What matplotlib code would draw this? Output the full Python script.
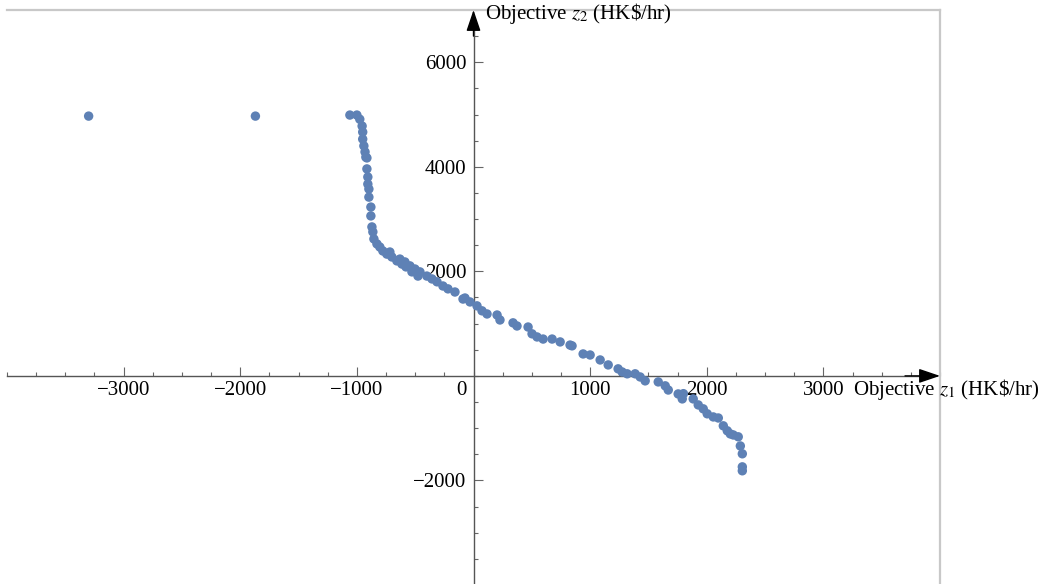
import matplotlib
matplotlib.use('Agg')
import matplotlib.pyplot as plt
from matplotlib.ticker import MultipleLocator, FixedLocator

plt.rcParams['font.family'] = ['Liberation Serif', 'DejaVu Serif']
plt.rcParams['mathtext.fontset'] = 'stix'

# Pareto front: objective z1 vs objective z2 (HK$/hr)
z1 = [-3300, -1870,
      -1060, -1000, -975, -955, -950, -950, -940, -930, -923, -914, -914,
      -906, -906, -897, -897, -880, -880, -871, -863, -854, -828, -803,
      -777, -743, -717, -700, -657, -631, -614, -588, -579, -545, -528,
      -502, -476, -459, -400, -356, -313, -262, -219, -159, -90, -73, -30,
      30, 73, 116, 202, 227, 339, 373, 468, 502, 545, 597, 674, 743, 828,
      845, 940, 1000, 1086, 1155, 1240, 1275, 1318, 1386, 1429, 1472, 1584,
      1644, 1670, 1755, 1790, 1800, 1884, 1927, 1970, 2004, 2056, 2099,
      2142, 2176, 2202, 2228, 2270, 2288, 2305, 2305, 2305]
z2 = [4970, 4970,
      4990, 4990, 4910, 4780, 4665, 4530, 4400, 4285, 4185, 4170, 3960,
      3805, 3670, 3575, 3420, 3230, 3060, 2850, 2755, 2620, 2525, 2465,
      2390, 2330, 2370, 2275, 2200, 2235, 2140, 2180, 2085, 2105, 1990,
      2045, 1910, 1990, 1910, 1855, 1800, 1720, 1665, 1605, 1470, 1490, 1415,
      1340, 1245, 1185, 1165, 1070, 1015, 955, 935, 805, 745, 705, 705, 650, 590,
      575, 420, 400, 305, 210, 135, 75, 40, 40, -20, -95, -115,
      -190, -270, -345, -440, -340, -440, -555, -630, -725, -785, -805,
      -955, -1050, -1110, -1130, -1165, -1340, -1490, -1740, -1815]

x_major = [-3000, -2000, -1000, 1000, 2000, 3000]
y_major = [-2000, 2000, 4000, 6000]

fig = plt.figure(figsize=(10.43, 5.84), dpi=100)
ax = fig.add_axes([7 / 1043, -0.0017, 933 / 1043, 0.9846])

ax.scatter(z1, z2, s=46, color='#5E81B5', edgecolors='none', zorder=3)

ax.set_xlim(-4000, 4000)
ax.set_ylim(-4000, 7000)

# axes through the origin, frame only top/right
axis_col = '#555555'
ax.spines['left'].set_position(('data', 0))
ax.spines['bottom'].set_position(('data', 0))
ax.spines['left'].set_color(axis_col)
ax.spines['bottom'].set_color(axis_col)
ax.spines['left'].set_linewidth(1.0)
ax.spines['bottom'].set_linewidth(1.0)
ax.spines['bottom'].set_bounds(-4000, 3850)
ax.spines['left'].set_bounds(-4000, 6750)
for s in ['top', 'right']:
    ax.spines[s].set_color('#c8c8c8')
    ax.spines[s].set_linewidth(1.6)

arrow = dict(arrowstyle='-|>,head_length=0.65,head_width=0.22', color='black',
             lw=1.0, mutation_scale=20, shrinkA=0, shrinkB=0)
ax.annotate('', xy=(4000, 0), xytext=(3700, 0), arrowprops=arrow,
            annotation_clip=False)
ax.annotate('', xy=(0, 7000), xytext=(0, 6500), arrowprops=arrow,
            annotation_clip=False)

ax.xaxis.set_major_locator(FixedLocator(x_major))
ax.xaxis.set_minor_locator(MultipleLocator(250))
ax.yaxis.set_major_locator(FixedLocator(y_major))
ax.yaxis.set_minor_locator(MultipleLocator(500))
ax.tick_params(which='both', direction='in', color='#666666', width=0.8,
               labelsize=15)
ax.tick_params(which='major', length=6.5)
ax.tick_params(which='minor', length=3.2)
ax.tick_params(axis='x', which='major', pad=4)
ax.tick_params(axis='y', which='major', pad=5)
ax.set_xticklabels([f'{v:d}'.replace('-', '\u2212') for v in x_major])
ax.set_yticklabels([f'{v:d}'.replace('-', '\u2212') for v in y_major])

ax.annotate('0', xy=(0, 0), xytext=(-9, -4), textcoords='offset points',
            ha='center', va='top', fontsize=15)

ax.text(3250, -370, r'Objective $z_1$ (HK\$/hr)', fontsize=15,
        ha='left', va='baseline', clip_on=False)
ax.text(100, 6830, r'Objective $z_2$ (HK\$/hr)', fontsize=15,
        ha='left', va='baseline', clip_on=False)

fig.savefig('out.png', dpi=100)
